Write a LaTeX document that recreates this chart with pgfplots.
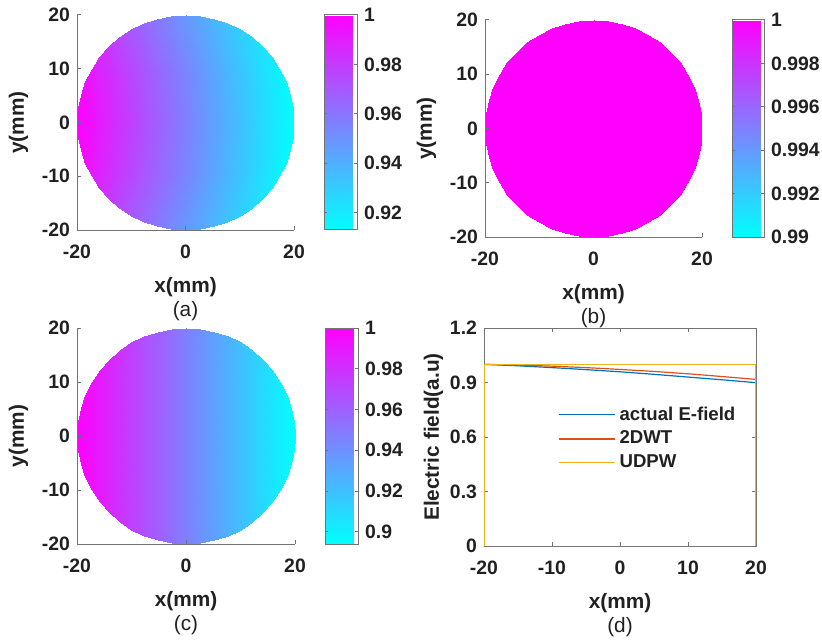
\documentclass[border=0pt]{standalone}
\usepackage{fontspec}
\setmainfont{Liberation Sans}
\usepackage{pgfplots}
\pgfplotsset{compat=1.18}

\definecolor{mblue}{rgb}{0,0.447,0.741}
\definecolor{morange}{rgb}{0.85,0.325,0.098}
\definecolor{myellow}{rgb}{0.929,0.694,0.125}
\definecolor{axgray}{rgb}{0.45,0.45,0.45}
\definecolor{txt}{rgb}{0.13,0.13,0.13}

\pgfplotsset{
  colormap={cool}{rgb=(0,1,1) rgb=(1,0,1)},
  every axis/.append style={
    /pgf/number format/assume math mode=true,
    tick label style={font=\fontsize{9.7}{11}\selectfont\bfseries, text=txt},
    label style={font=\fontsize{10.4}{12}\selectfont\bfseries, text=txt},
    axis line style={draw=axgray, line width=0.5pt},
    tick style={draw=axgray, line width=0.5pt},
    major tick length=2pt,
    tick align=inside,
  },
  disc/.style={
    view={0}{90}, scale only axis,
    width=108.5pt, height=107.5pt,
    xmin=-20, xmax=20, ymin=-20, ymax=20, zmin=0, zmax=2,
    axis lines*=left, hide z axis,
    xtick={-20,0,20}, ytick={-20,-10,0,10,20},
    xticklabel style={yshift=-4pt},
    ylabel={y(mm)},
    xlabel style={align=center, yshift=-2.5pt},
    colorbar,
  },
  cbar/.style={
    colorbar style={
      at={(parent axis.north east)}, anchor=north west,
      xshift=6.5pt, width=16.5pt,
      axis line style={draw=black!55},
      tick style={draw=black!55},
      major tick length=1.5pt,
      #1
    }
  },
}

\begin{document}
\begin{tikzpicture}
\useasboundingbox (0,0) rectangle (411pt,319.5pt);

% (a) actual field over the aperture
\begin{axis}[disc, at={(38.5pt,204.5pt)}, anchor=south west,
  point meta min=0.913, point meta max=1,
  xlabel={x(mm)\\{\mdseries (a)}},
  cbar={ytick={0.92,0.94,0.96,0.98,1}, yticklabels={0.92,0.94,0.96,0.98,1}}]
\addplot3[surf, shader=interp] table {
x y c
-20 0 1.0000
-20 0 1.0000
-20 0 1.0000
-20 0 1.0000
-20 0 1.0000

-19.83 -2.61 0.9994
-19.83 -1.305 0.9996
-19.83 0 0.9996
-19.83 1.305 0.9996
-19.83 2.61 0.9994

-19.32 -5.18 0.9976
-19.32 -2.59 0.9983
-19.32 0 0.9985
-19.32 2.59 0.9983
-19.32 5.18 0.9976

-18.48 -7.65 0.9947
-18.48 -3.825 0.9962
-18.48 0 0.9967
-18.48 3.825 0.9962
-18.48 7.65 0.9947

-17.32 -10 0.9909
-17.32 -5 0.9933
-17.32 0 0.9942
-17.32 5 0.9933
-17.32 10 0.9909

-15.87 -12.18 0.9864
-15.87 -6.09 0.9898
-15.87 0 0.9910
-15.87 6.09 0.9898
-15.87 12.18 0.9864

-14.14 -14.14 0.9814
-14.14 -7.07 0.9858
-14.14 0 0.9873
-14.14 7.07 0.9858
-14.14 14.14 0.9814

-12.18 -15.87 0.9760
-12.18 -7.935 0.9812
-12.18 0 0.9830
-12.18 7.935 0.9812
-12.18 15.87 0.9760

-10 -17.32 0.9704
-10 -8.66 0.9762
-10 0 0.9783
-10 8.66 0.9762
-10 17.32 0.9704

-7.65 -18.48 0.9648
-7.65 -9.24 0.9710
-7.65 0 0.9731
-7.65 9.24 0.9710
-7.65 18.48 0.9648

-5.18 -19.32 0.9591
-5.18 -9.66 0.9655
-5.18 0 0.9678
-5.18 9.66 0.9655
-5.18 19.32 0.9591

-2.61 -19.83 0.9535
-2.61 -9.915 0.9600
-2.61 0 0.9622
-2.61 9.915 0.9600
-2.61 19.83 0.9535

0 -20 0.9481
0 -10 0.9544
0 0 0.9565
0 10 0.9544
0 20 0.9481

2.61 -19.83 0.9430
2.61 -9.915 0.9488
2.61 0 0.9508
2.61 9.915 0.9488
2.61 19.83 0.9430

5.18 -19.32 0.9381
5.18 -9.66 0.9434
5.18 0 0.9452
5.18 9.66 0.9434
5.18 19.32 0.9381

7.65 -18.48 0.9336
7.65 -9.24 0.9383
7.65 0 0.9399
7.65 9.24 0.9383
7.65 18.48 0.9336

10 -17.32 0.9294
10 -8.66 0.9334
10 0 0.9348
10 8.66 0.9334
10 17.32 0.9294

12.18 -15.87 0.9257
12.18 -7.935 0.9289
12.18 0 0.9300
12.18 7.935 0.9289
12.18 15.87 0.9257

14.14 -14.14 0.9224
14.14 -7.07 0.9249
14.14 0 0.9257
14.14 7.07 0.9249
14.14 14.14 0.9224

15.87 -12.18 0.9196
15.87 -6.09 0.9214
15.87 0 0.9220
15.87 6.09 0.9214
15.87 12.18 0.9196

17.32 -10 0.9172
17.32 -5 0.9184
17.32 0 0.9188
17.32 5 0.9184
17.32 10 0.9172

18.48 -7.65 0.9154
18.48 -3.825 0.9161
18.48 0 0.9163
18.48 3.825 0.9161
18.48 7.65 0.9154

19.32 -5.18 0.9141
19.32 -2.59 0.9144
19.32 0 0.9145
19.32 2.59 0.9144
19.32 5.18 0.9141

19.83 -2.61 0.9133
19.83 -1.305 0.9133
19.83 0 0.9134
19.83 1.305 0.9133
19.83 2.61 0.9133

20 0 0.9130
20 0 0.9130
20 0 0.9130
20 0 0.9130
20 0 0.9130
};
\end{axis}

% (b) UDPW field, uniform
\begin{axis}[disc, at={(242.5pt,201pt)}, anchor=south west,
  width=108.5pt, height=108.5pt,
  point meta min=0.99, point meta max=1,
  xlabel={x(mm)\\{\mdseries (b)}},
  cbar={width=16pt, ytick={0.99,0.992,0.994,0.996,0.998,1},
        yticklabels={0.99,0.992,0.994,0.996,0.998,1}}]
\addplot3[surf, shader=interp] table {
x y c
-20 0 1
-20 0 1

-19.83 -2.61 1
-19.83 2.61 1

-19.32 -5.18 1
-19.32 5.18 1

-18.48 -7.65 1
-18.48 7.65 1

-17.32 -10 1
-17.32 10 1

-15.87 -12.18 1
-15.87 12.18 1

-14.14 -14.14 1
-14.14 14.14 1

-12.18 -15.87 1
-12.18 15.87 1

-10 -17.32 1
-10 17.32 1

-7.65 -18.48 1
-7.65 18.48 1

-5.18 -19.32 1
-5.18 19.32 1

-2.61 -19.83 1
-2.61 19.83 1

0 -20 1
0 20 1

2.61 -19.83 1
2.61 19.83 1

5.18 -19.32 1
5.18 19.32 1

7.65 -18.48 1
7.65 18.48 1

10 -17.32 1
10 17.32 1

12.18 -15.87 1
12.18 15.87 1

14.14 -14.14 1
14.14 14.14 1

15.87 -12.18 1
15.87 12.18 1

17.32 -10 1
17.32 10 1

18.48 -7.65 1
18.48 7.65 1

19.32 -5.18 1
19.32 5.18 1

19.83 -2.61 1
19.83 2.61 1

20 0 1
20 0 1
};
\end{axis}

% (c) 2DWT field
\begin{axis}[disc, at={(38.5pt,47.5pt)}, anchor=south west,
  width=109pt, height=108pt,
  point meta min=0.894, point meta max=1,
  xlabel={x(mm)\\{\mdseries (c)}},
  cbar={ytick={0.9,0.92,0.94,0.96,0.98,1}, yticklabels={0.9,0.92,0.94,0.96,0.98,1}}]
\addplot3[surf, shader=interp] table {
x y c
-20 0 1.0000
-20 0 1.0000

-19.83 -2.61 0.9996
-19.83 2.61 0.9996

-19.32 -5.18 0.9982
-19.32 5.18 0.9982

-18.48 -7.65 0.9960
-18.48 7.65 0.9960

-17.32 -10 0.9929
-17.32 10 0.9929

-15.87 -12.18 0.9891
-15.87 12.18 0.9891

-14.14 -14.14 0.9845
-14.14 14.14 0.9845

-12.18 -15.87 0.9793
-12.18 15.87 0.9793

-10 -17.32 0.9735
-10 17.32 0.9735

-7.65 -18.48 0.9673
-7.65 18.48 0.9673

-5.18 -19.32 0.9607
-5.18 19.32 0.9607

-2.61 -19.83 0.9539
-2.61 19.83 0.9539

0 -20 0.9470
0 20 0.9470

2.61 -19.83 0.9401
2.61 19.83 0.9401

5.18 -19.32 0.9333
5.18 19.32 0.9333

7.65 -18.48 0.9267
7.65 18.48 0.9267

10 -17.32 0.9205
10 17.32 0.9205

12.18 -15.87 0.9147
12.18 15.87 0.9147

14.14 -14.14 0.9095
14.14 14.14 0.9095

15.87 -12.18 0.9049
15.87 12.18 0.9049

17.32 -10 0.9011
17.32 10 0.9011

18.48 -7.65 0.8980
18.48 7.65 0.8980

19.32 -5.18 0.8958
19.32 5.18 0.8958

19.83 -2.61 0.8944
19.83 2.61 0.8944

20 0 0.8940
20 0 0.8940
};
\end{axis}

% (d) profiles along y = 0
\begin{axis}[at={(242pt,46.5pt)}, anchor=south west, scale only axis,
  width=136pt, height=109pt,
  xmin=-20, xmax=20, ymin=0, ymax=1.2,
  xtick={-20,-10,0,10,20},
  ytick={0,0.3,0.6,0.9,1.2}, yticklabels={0,0.3,0.6,0.9,1.2},
  xticklabel style={yshift=-4pt},
  xlabel={x(mm)\\{\mdseries (d)}}, xlabel style={align=center, yshift=-2.5pt},
  ylabel={Electric field(a.u)}, ylabel shift=-3.5pt,
  legend cell align=left,
  legend style={at={(rel axis cs:0.272,0.66)}, anchor=north west,
    draw=none, fill=none, inner sep=0pt,
    font=\fontsize{9.3}{11}\selectfont\bfseries, text=txt,
    row sep=0pt},
  legend image code/.code={\draw[#1, line width=0.6pt] (0pt,0pt) -- (28pt,0pt);},
]
\addplot[color=mblue, line width=0.6pt] table {
x y
-20 0
-20 1.000
-15 0.992
-10 0.982
-5 0.971
0 0.959
5 0.945
10 0.930
15 0.915
20 0.899
20 0
};
\addlegendentry{actual E-field}
\addplot[color=morange, line width=0.6pt] table {
x y
-20 0
-20 1.000
-15 0.996
-10 0.990
-5 0.982
0 0.972
5 0.961
10 0.948
15 0.933
20 0.917
20 0
};
\addlegendentry{2DWT}
\addplot[color=myellow, line width=0.6pt] table {
x y
-20 0
-20 1
20 1
20 0
};
\addlegendentry{UDPW}
\end{axis}
\end{tikzpicture}
\end{document}
